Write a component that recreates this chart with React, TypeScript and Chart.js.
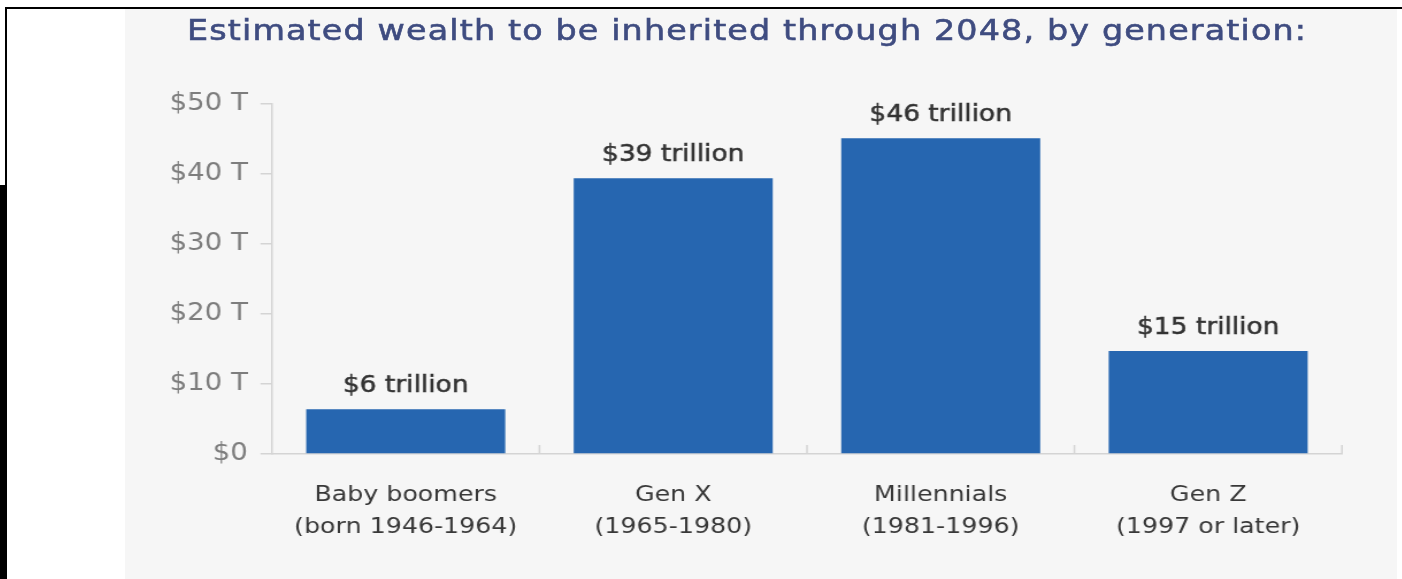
import React, { useEffect, useRef } from "react";
import { Chart, registerables } from "chart.js";

Chart.register(...registerables);

const TITLE = "Estimated wealth to be inherited through 2048, by generation:";
const categories: string[][] = [
  ["Baby boomers", "(born 1946-1964)"],
  ["Gen X", "(1965-1980)"],
  ["Millennials", "(1981-1996)"],
  ["Gen Z", "(1997 or later)"],
];
const wealthTrillions = [6.4, 39.4, 45.1, 14.7];
const valueLabels = ["$6 trillion", "$39 trillion", "$46 trillion", "$15 trillion"];
const yTickValues = [0, 10, 20, 30, 40, 50];
const yTickLabels = ["$0", "$10 T", "$20 T", "$30 T", "$40 T", "$50 T"];

const SX = 1.15; // horizontal stretch of the original picture
const PANEL_LEFT = 125;
const PANEL_TOP = 9;
const PANEL_W = 1272;
const PANEL_H = 570;
const INNER_W = PANEL_W / SX;
const FONT = "'DejaVu Sans', sans-serif";
const AXIS_COLOR = "#d4d4d4";

const valueLabelPlugin = {
  id: "valueLabels",
  afterDatasetsDraw(chart: any) {
    const { ctx } = chart;
    const meta = chart.getDatasetMeta(0);
    ctx.save();
    ctx.font = `23px ${FONT}`;
    ctx.fillStyle = "#333333";
    ctx.strokeStyle = "#333333";
    ctx.lineWidth = 0.5;
    ctx.textAlign = "center";
    ctx.textBaseline = "alphabetic";
    meta.data.forEach((bar: any, i: number) => {
      ctx.fillText(valueLabels[i], bar.x, bar.y - 17);
      ctx.strokeText(valueLabels[i], bar.x, bar.y - 17);
    });
    ctx.restore();
  },
};

const boundaryTickPlugin = {
  id: "boundaryTicks",
  afterDraw(chart: any) {
    const { ctx } = chart;
    const xs = chart.scales.x;
    const n = xs.ticks.length;
    const step = xs.width / n;
    ctx.save();
    ctx.strokeStyle = AXIS_COLOR;
    ctx.lineWidth = 1.5;
    for (let i = 1; i <= n; i++) {
      const px = xs.left + i * step;
      ctx.beginPath();
      ctx.moveTo(px, xs.top);
      ctx.lineTo(px, xs.top - 9);
      ctx.stroke();
    }
    ctx.restore();
  },
};

export default function App() {
  const canvasRef = useRef<HTMLCanvasElement | null>(null);

  useEffect(() => {
    if (!canvasRef.current) return;
    const chart = new Chart(canvasRef.current, {
      type: "bar",
      data: {
        labels: categories,
        datasets: [
          {
            data: wealthTrillions,
            backgroundColor: "#2666b0",
            borderWidth: 0,
            categoryPercentage: 1,
            barPercentage: 0.744,
          },
        ],
      },
      options: {
        animation: false,
        responsive: true,
        maintainAspectRatio: false,
        layout: { padding: { top: 95, right: INNER_W - 127.8 - 930.4, bottom: 0, left: 0 } },
        plugins: {
          legend: { display: false },
          tooltip: { enabled: false },
          title: { display: false },
        },
        scales: {
          x: {
            grid: { display: false, drawTicks: false },
            border: { display: true, color: AXIS_COLOR, width: 1.5 },
            ticks: {
              padding: 25,
              color: "#383838",
              font: { family: FONT, size: 22, lineHeight: 1.45 },
              maxRotation: 0,
              autoSkip: false,
            },
            afterFit(scale: any) {
              scale.height = 125;
            },
          },
          y: {
            min: 0,
            max: 50,
            afterBuildTicks(scale: any) {
              scale.ticks = yTickValues.map((v) => ({ value: v }));
            },
            grid: {
              drawOnChartArea: false,
              drawTicks: true,
              tickLength: 10,
              color: AXIS_COLOR,
              lineWidth: 1.5,
            },
            border: { display: true, color: AXIS_COLOR, width: 1.5 },
            ticks: {
              padding: 11,
              color: "#7d7d7d",
              font: { family: FONT, size: 24 },
              callback: (v: any) => {
                const idx = yTickValues.indexOf(Number(v));
                return idx >= 0 ? yTickLabels[idx] : "";
              },
            },
            afterFit(scale: any) {
              scale.width = 127.8;
            },
          },
        },
      },
      plugins: [valueLabelPlugin, boundaryTickPlugin],
    });
    return () => chart.destroy();
  }, []);

  return (
    <div
      style={{
        position: "fixed",
        left: 0,
        top: 0,
        width: 1402,
        height: 579,
        background: "#ffffff",
        overflow: "hidden",
      }}
    >
      <div
        style={{
          position: "absolute",
          left: PANEL_LEFT,
          top: PANEL_TOP,
          width: PANEL_W,
          height: PANEL_H,
          background: "#f6f6f6",
        }}
      />
      <div
        style={{
          position: "absolute",
          left: PANEL_LEFT,
          top: PANEL_TOP,
          width: INNER_W,
          height: PANEL_H,
          transform: `scaleX(${SX})`,
          transformOrigin: "0 0",
        }}
      >
        <canvas ref={canvasRef} />
      </div>
      <div
        style={{
          position: "absolute",
          left: 187,
          top: 14,
          whiteSpace: "nowrap",
          fontFamily: FONT,
          fontSize: 29,
          lineHeight: "32px",
          letterSpacing: "1px",
          color: "#3f4c80",
          WebkitTextStroke: "0.6px #3f4c80",
          transform: `scaleX(${SX})`,
          transformOrigin: "0 0",
        }}
      >
        {TITLE}
      </div>
      <div style={{ position: "absolute", left: 5, top: 7, width: 1397, height: 2, background: "#000" }} />
      <div style={{ position: "absolute", left: 5, top: 7, width: 2, height: 180, background: "#000" }} />
      <div style={{ position: "absolute", left: 0, top: 185, width: 7, height: 394, background: "#000" }} />
    </div>
  );
}
